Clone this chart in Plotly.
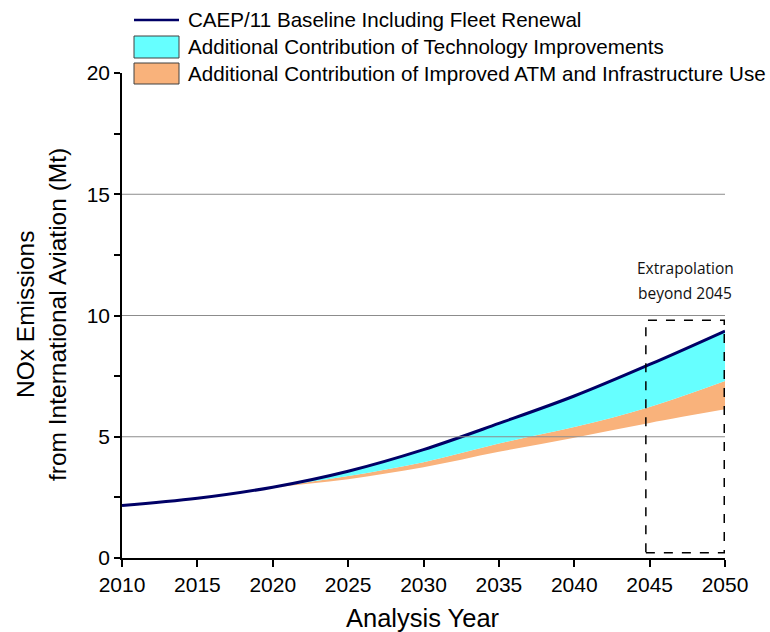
import plotly.graph_objects as go

# NOx emissions from international aviation (Mt)
years = [2010, 2015, 2020, 2025, 2030, 2035, 2040, 2045, 2050]
baseline_nox = [2.16, 2.46, 2.92, 3.58, 4.47, 5.55, 6.68, 7.98, 9.36]
technology_nox = [2.16, 2.46, 2.91, 3.38, 3.95, 4.72, 5.40, 6.23, 7.30]
atm_nox = [2.16, 2.46, 2.90, 3.25, 3.74, 4.38, 4.96, 5.57, 6.13]

x_ticks = [2010, 2015, 2020, 2025, 2030, 2035, 2040, 2045, 2050]
y_ticks = [0, 5, 10, 15, 20]
grid_levels = [5, 10, 15]

legend_labels = [
    "CAEP/11 Baseline Including Fleet Renewal",
    "Additional Contribution of Technology Improvements",
    "Additional Contribution of Improved ATM and Infrastructure Use",
]
extrapolation_lines = ["Extrapolation", "beyond 2045"]
extrapolation_x = [2044.75, 2049.95]
extrapolation_y = [0.22, 9.8]

NAVY = "#000066"
CYAN = "#66FFFF"
ORANGE = "#F9B27B"
GRID = "#8C8C8C"
FONT = "Arial, Liberation Sans, sans-serif"

W, H = 770, 632
ML, MR, MT, MB = 122, 45, 73, 74
PW, PH = W - ML - MR, H - MT - MB


def px(x):
    return (x - ML) / PW


def py(y):
    return (H - MB - y) / PH


fig = go.Figure()

fig.add_trace(go.Scatter(
    x=years, y=atm_nox, mode="lines", line=dict(width=0, shape="spline"),
    showlegend=False, hoverinfo="skip"))
fig.add_trace(go.Scatter(
    x=years, y=technology_nox, mode="lines", line=dict(width=0, shape="spline"),
    fill="tonexty", fillcolor=ORANGE, showlegend=False, name=legend_labels[2]))
fig.add_trace(go.Scatter(
    x=years, y=baseline_nox, mode="lines", line=dict(width=0, shape="spline"),
    fill="tonexty", fillcolor=CYAN, showlegend=False, name=legend_labels[1]))
fig.add_trace(go.Scatter(
    x=years, y=baseline_nox, mode="lines",
    line=dict(color=NAVY, width=3, shape="spline"),
    showlegend=False, name=legend_labels[0]))

shapes = []
for g in grid_levels:
    shapes.append(dict(type="line", xref="x", yref="y", x0=x_ticks[0], x1=x_ticks[-1],
                       y0=g, y1=g, line=dict(color=GRID, width=1), layer="above"))

shapes.append(dict(type="rect", xref="x", yref="y",
                   x0=extrapolation_x[0], x1=extrapolation_x[1],
                   y0=extrapolation_y[0], y1=extrapolation_y[1],
                   line=dict(color="black", width=1.5, dash="dash"), layer="above"))

# hand-built legend
shapes.append(dict(type="line", xref="paper", yref="paper",
                   x0=px(134), x1=px(179), y0=py(20), y1=py(20),
                   line=dict(color=NAVY, width=2.5)))
for (top, bottom), color in zip([(36, 58), (63, 84)], [CYAN, ORANGE]):
    shapes.append(dict(type="rect", xref="paper", yref="paper",
                       x0=px(134), x1=px(179), y0=py(bottom), y1=py(top),
                       fillcolor=color, line=dict(color="#404040", width=1)))

annotations = []
for label, yc in zip(legend_labels, [20, 47, 73]):
    annotations.append(dict(xref="paper", yref="paper", x=px(186), y=py(yc),
                            xanchor="left", yanchor="middle", showarrow=False,
                            text=label, font=dict(family=FONT, size=20.6, color="black")))

for text, yc in zip(extrapolation_lines, [268, 293]):
    annotations.append(dict(xref="paper", yref="paper", x=px(685), y=py(yc),
                            xanchor="center", yanchor="middle", showarrow=False,
                            text=text,
                            font=dict(family="Open Sans, sans-serif", size=15.5, color="#111")))

annotations.append(dict(xref="paper", yref="paper", x=px(423), y=py(618),
                        xanchor="center", yanchor="middle", showarrow=False,
                        text="Analysis Year",
                        font=dict(family=FONT, size=25.5, color="black")))
for text, xc in [("NOx Emissions", 25), ("from International Aviation (Mt)", 57)]:
    annotations.append(dict(xref="paper", yref="paper", x=px(xc), y=py(315),
                            xanchor="center", yanchor="middle", showarrow=False,
                            textangle=-90, text=text,
                            font=dict(family=FONT, size=24.5, color="black")))

fig.update_layout(
    width=W, height=H,
    margin=dict(l=ML, r=MR, t=MT, b=MB),
    paper_bgcolor="white", plot_bgcolor="white",
    showlegend=False,
    shapes=shapes, annotations=annotations,
    font=dict(family=FONT, color="black"),
)
fig.update_xaxes(
    range=[x_ticks[0], x_ticks[-1]], tickvals=x_ticks,
    showgrid=False, zeroline=False,
    showline=True, linecolor="black", linewidth=1.5,
    ticks="outside", ticklen=7, tickwidth=1.5, tickcolor="black",
    tickfont=dict(family=FONT, size=21, color="black"),
)
fig.update_yaxes(
    range=[y_ticks[0], y_ticks[-1]], tickvals=y_ticks,
    showgrid=False, zeroline=False,
    showline=True, linecolor="black", linewidth=1.5,
    ticks="outside", ticklen=6, tickwidth=1.5, tickcolor="black",
    tickfont=dict(family=FONT, size=21, color="black"),
    minor=dict(tickvals=[2.5, 7.5, 12.5, 17.5], ticks="outside", ticklen=6,
               tickwidth=1.5, tickcolor="black", showgrid=False),
)

fig.write_html("out.html")
